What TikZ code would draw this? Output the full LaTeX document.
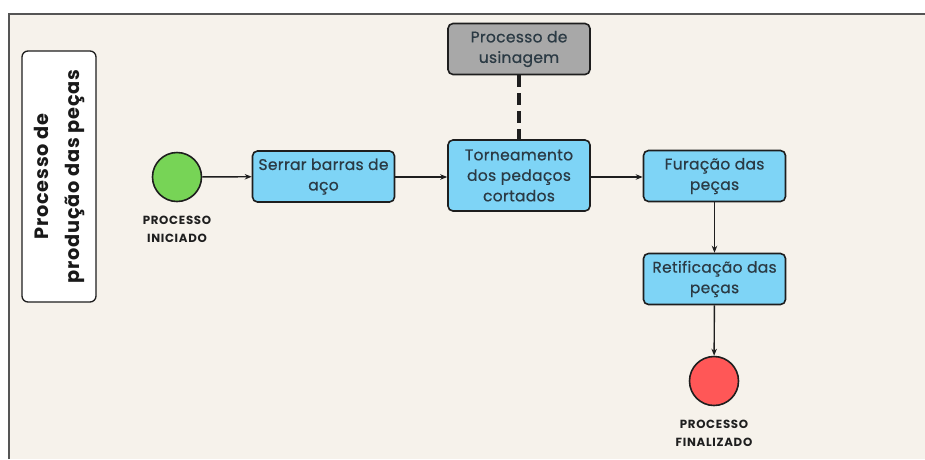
\documentclass[tikz,border=0pt]{standalone}
\usepackage{fontspec}
\setmainfont{Poppins}
\newfontfamily\boxfont[LetterSpace=2,FakeBold=0.6]{Poppins}
\newfontfamily\lblfont[LetterSpace=6]{Poppins}
\newfontfamily\titlefont[LetterSpace=4]{Poppins}
\usetikzlibrary{arrows.meta}
\definecolor{bgc}{HTML}{F6F2EB}
\definecolor{boxblue}{HTML}{7ED4F6}
\definecolor{boxgray}{HTML}{A8A8A8}
\definecolor{startg}{HTML}{77D456}
\definecolor{endr}{HTML}{FF5757}
\definecolor{txt}{HTML}{2B3A44}
\definecolor{edge}{HTML}{1E1E1E}
\definecolor{framec}{HTML}{555555}
\tikzset{
  procbox/.style={draw=edge, line width=1.6pt, rounded corners=5pt, fill=boxblue, text=txt,
    minimum width=142pt, minimum height=51pt, align=center, font=\boxfont\fontsize{15.5}{20.5}\selectfont, inner sep=1pt},
  evt/.style={circle, draw=edge, line width=1.6pt, minimum size=49pt, inner sep=0pt},
  evlabel/.style={align=center, font=\lblfont\fontsize{11.8}{17.5}\selectfont\bfseries, text=black!88},
  flow/.style={draw=edge, line width=1.4pt, -{Stealth[length=7pt,width=5.5pt]}},
}
\begin{document}
\begin{tikzpicture}[x=1pt,y=-1pt]
\useasboundingbox (0,0) rectangle (925,459);
\fill[white] (0,0) rectangle (925,459);
\fill[bgc] (9,14) rectangle (925,459);
\draw[framec, line width=2pt] (9,459) -- (9,14) -- (925,14);
% title
\node[draw=edge, line width=1.3pt, rounded corners=6pt, fill=white, minimum width=251pt, minimum height=74pt,
  rotate=90, align=center, font=\titlefont\fontsize{19.3}{31}\selectfont\bfseries, text=black!90, inner sep=0pt] (title) at (59,176.5)
  {Processo de\\produção das peças};
% nodes
\node[evt, fill=startg] (start) at (177,177) {};
\node[evlabel] (startlbl) at (177,229.5) {PROCESSO\\INICIADO};
\node[procbox] (serrar) at (323.5,176.5) {Serrar barras de\\aço};
\node[procbox, minimum height=71pt] (torno) at (519,175.5) {Torneamento\\dos pedaços\\cortados};
\node[procbox, fill=boxgray] (usin) at (519,49) {Processo de\\usinagem};
\node[procbox] (furo) at (714.5,176) {Furação das\\peças};
\node[procbox] (retif) at (714.5,279) {Retificação das\\peças};
\node[evt, fill=endr] (fim) at (714,381) {};
\node[evlabel] (fimlbl) at (714,433.5) {PROCESSO\\FINALIZADO};
% connectors
\draw[flow] (start) -- (serrar);
\draw[flow] (serrar.east |- start) -- (torno.west |- start);
\draw[flow] (torno.east |- start) -- (furo.west |- start);
\draw[flow] (furo) -- (retif);
\draw[flow] (retif) -- (fim);
\draw[edge, line width=3.5pt, dash pattern=on 12pt off 6pt] (usin) -- (torno);
\end{tikzpicture}
\end{document}
